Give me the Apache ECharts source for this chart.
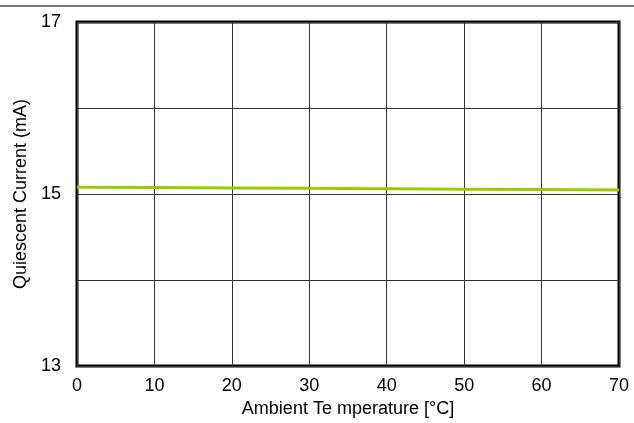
<!DOCTYPE html>
<html><head><meta charset="utf-8">
<script src="https://cdn.jsdelivr.net/npm/echarts@6/dist/echarts.min.js"></script>
<style>html,body{margin:0;padding:0;background:#fff}#c{width:634px;height:423px}</style>
</head><body><div id="c"></div>
<script>
const temps = [0, 10, 20, 30, 40, 50, 60, 70];
const current = [15.08, 15.076, 15.071, 15.066, 15.062, 15.057, 15.052, 15.046];
const yLabels = [13, 15, 17];
const chart = echarts.init(document.getElementById('c'));
const font = 'Liberation Sans, Arial, sans-serif';
chart.setOption({
  animation: false,
  graphic: [{type: 'line', shape: {x1: 0, y1: 6, x2: 634, y2: 6}, style: {stroke: '#777', lineWidth: 2}}],
  grid: {left: 77, right: 15, top: 22, bottom: 55, show: true, borderColor: '#000', borderWidth: 3},
  xAxis: {
    type: 'value', min: 0, max: 70, interval: 10,
    name: 'Ambient Te mperature [°C]', nameLocation: 'middle', nameGap: 32,
    nameTextStyle: {fontFamily: font, fontSize: 18, color: '#000'},
    axisLine: {show: false}, axisTick: {show: false},
    axisLabel: {fontFamily: font, fontSize: 18, color: '#000', margin: 11},
    splitLine: {show: true, lineStyle: {color: '#333', width: 1}}
  },
  yAxis: {
    type: 'value', min: 13, max: 17, interval: 1,
    name: 'Quiescent Current (mA)', nameLocation: 'middle', nameGap: 47,
    nameTextStyle: {fontFamily: font, fontSize: 18, color: '#000'},
    axisLine: {show: false}, axisTick: {show: false},
    axisLabel: {fontFamily: font, fontSize: 18, color: '#000', margin: 16,
      formatter: v => yLabels.includes(v) ? String(v) : ''},
    splitLine: {show: true, lineStyle: {color: '#333', width: 1}}
  },
  series: [{
    type: 'line', data: temps.map((t, i) => [t, current[i]]),
    showSymbol: false, lineStyle: {color: '#99cc00', width: 3}
  }]
});
</script></body></html>
